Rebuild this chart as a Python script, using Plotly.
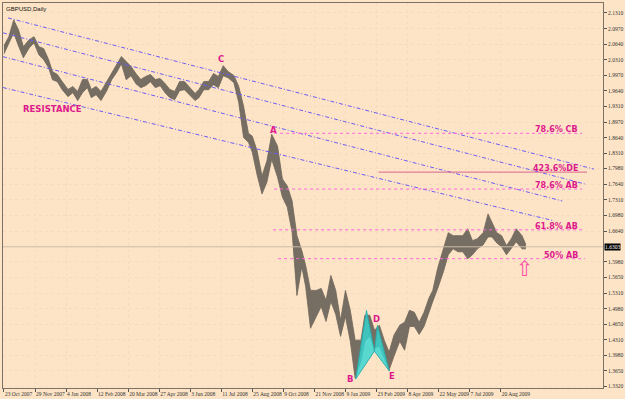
import plotly.graph_objects as go

# ---------------- data ----------------
bar_idx = [0, 5, 10, 15, 20, 26, 31, 36, 41, 46, 50, 55, 60, 66, 71, 76, 81, 86, 90, 95,
           100, 106, 111, 116, 121, 126, 131, 136, 141, 146, 151, 156, 161, 166, 171, 176, 181, 186, 191, 197,
           201, 206, 211, 216, 221, 226, 231, 237, 242, 247, 252, 256, 261, 266, 271, 276, 282, 287, 292, 297,
           302, 307, 311, 316, 322, 327, 332, 337, 342, 347, 352, 357, 362, 368, 372, 377, 382, 387, 392, 397,
           402, 408, 413, 418, 423, 428, 433, 438, 442, 447, 453, 458, 463, 468, 473, 478, 483, 488, 494, 499,
           503, 508, 513, 518, 523, 528, 534, 538]

high = [2.0610, 2.0802, 2.1161, 2.0951, 2.0589, 2.0738, 2.0802, 2.0589, 2.0546, 2.0312,
        2.0056, 1.9992, 1.9843, 1.9673, 1.9737, 1.9630, 1.9886, 1.9886, 1.9673, 1.9737,
        1.9630, 1.9843, 2.0013, 2.0184, 2.0376, 2.0269, 2.0163, 2.0013, 1.9886, 1.9950,
        1.9992, 1.9886, 1.9907, 1.9800, 1.9673, 1.9630, 1.9843, 1.9843, 1.9737, 1.9587,
        1.9673, 1.9843, 1.9843, 2.0013, 1.9950, 2.0181, 2.0056, 1.9971, 1.9737, 1.9311,
        1.8735, 1.8672, 1.8352, 1.7820, 1.8139, 1.8712, 1.8459, 1.7756, 1.7607, 1.7287,
        1.6542, 1.6222, 1.5903, 1.5370, 1.5370, 1.5413, 1.5157, 1.5690, 1.5370, 1.4731,
        1.5370, 1.4944, 1.4305, 1.4305, 1.4838, 1.4838, 1.4518, 1.4625, 1.4305, 1.4049,
        1.4412, 1.4625, 1.4688, 1.4944, 1.4901, 1.4688, 1.4901, 1.5200, 1.5370, 1.5839,
        1.6265, 1.6605, 1.6542, 1.6542, 1.6542, 1.6691, 1.6435, 1.6478, 1.6605, 1.7008,
        1.6818, 1.6605, 1.6542, 1.6329, 1.6478, 1.6691, 1.6542, 1.6350]

low = [2.0434, 2.0647, 2.0882, 2.0605, 2.0349, 2.0562, 2.0669, 2.0413, 2.0306, 2.0136,
       1.9880, 1.9838, 1.9667, 1.9518, 1.9604, 1.9433, 1.9604, 1.9710, 1.9497, 1.9561,
       1.9433, 1.9646, 1.9880, 2.0030, 2.0221, 1.9880, 1.9966, 1.9795, 1.9710, 1.9753,
       1.9838, 1.9710, 1.9753, 1.9604, 1.9497, 1.9454, 1.9646, 1.9667, 1.9561, 1.9433,
       1.9497, 1.9667, 1.9667, 1.9774, 1.9710, 1.9966, 1.9923, 1.9817, 1.9391, 1.8645,
       1.8539, 1.8326, 1.7836, 1.7434, 1.7687, 1.8176, 1.7793, 1.7367, 1.7154, 1.6622,
       1.5261, 1.5876, 1.5450, 1.4558, 1.4811, 1.5024, 1.4705, 1.5131, 1.4854, 1.4385,
       1.4811, 1.4279, 1.3493, 1.3853, 1.4279, 1.4385, 1.4129, 1.4172, 1.3916, 1.3663,
       1.3959, 1.4279, 1.4089, 1.4598, 1.4598, 1.4428, 1.4598, 1.4918, 1.5131, 1.5407,
       1.5770, 1.6132, 1.6259, 1.6196, 1.6196, 1.6046, 1.6132, 1.6259, 1.6345, 1.6515,
       1.6515, 1.6387, 1.6302, 1.6132, 1.6259, 1.6409, 1.6259, 1.6259]

last_price = 1.6303

tick_bars = [0, 32, 64, 96, 128, 160, 192, 224, 256, 288, 320, 352, 384, 416, 448, 480, 512]
tick_dates = ["23 Oct 2007", "29 Nov 2007", "4 Jan 2008", "12 Feb 2008", "20 Mar 2008",
              "27 Apr 2008", "3 Jun 2008", "11 Jul 2008", "25 Aug 2008", "9 Oct 2008",
              "21 Nov 2008", "9 Jan 2009", "23 Feb 2009", "8 Apr 2009", "22 May 2009",
              "7 Jul 2009", "20 Aug 2009"]

price_ticks = [2.1310, 2.0970, 2.0640, 2.0310, 1.9970, 1.9640, 1.9310, 1.8970, 1.8640,
               1.8310, 1.7980, 1.7640, 1.7310, 1.6980, 1.6640, 1.5980, 1.5650, 1.5310,
               1.4980, 1.4650, 1.4310, 1.3980, 1.3650, 1.3320]

# channel trend lines (start bar, start price, end bar, end price)
chan_x0 = [4.1, -1.0, -1.0, -1.0]
chan_y0 = [2.1204, 2.0884, 2.0373, 1.9713]
chan_x1 = [608.2, 599.0, 575.5, 567.3]
chan_y1 = [1.7966, 1.7647, 1.7284, 1.6858]

# fibonacci / projection levels
fib_names = ["78.6% CB", "423.6%DE", "78.6% AB", "61.8% AB", "50% AB"]
fib_prices = [1.8733, 1.7902, 1.7540, 1.6667, 1.6049]
fib_start = [278.5, 386.0, 278.5, 277.5, 282.6]
fib_end = [596.0, 601.0, 596.0, 599.0, 599.0]
fib_label_bar = 594.0

# pattern points
pt_names = ["C", "A", "B", "D", "E"]
pt_bar = [224.2, 277.5, 356.3, 384.0, 400.4]
pt_price = [2.0320, 1.8797, 1.3472, 1.4750, 1.3536]

# harmonic triangles
tri1_bar = [362.5, 373.7, 381.9]
tri1_price = [1.3471, 1.4941, 1.4068]
tri2_bar = [381.9, 385.0, 397.3]
tri2_price = [1.4068, 1.4622, 1.3642]

resist_bar, resist_price = 49.7, 1.9244
arrow_bar, arrow_price = 536.6, 1.5836

# ---------------- figure ----------------
BG = "#fde4c6"
CANDLE = "#6e665b"
PINK = "#dd1a8c"
FIBC = "#ff66dd"
BLUE = "#6c5cf5"

fig = go.Figure()

# price band
fig.add_trace(go.Scatter(x=bar_idx, y=high, mode="lines",
                         line=dict(color=CANDLE, width=0.8), hoverinfo="skip"))
fig.add_trace(go.Scatter(x=bar_idx, y=low, mode="lines", fill="tonexty",
                         fillcolor="#766e62", line=dict(color=CANDLE, width=0.8),
                         hoverinfo="skip"))

# harmonic triangles (semi-transparent so the bars show through)
for bx, by in [(tri1_bar, tri1_price), (tri2_bar, tri2_price)]:
    fig.add_trace(go.Scatter(x=bx + [bx[0]], y=by + [by[0]], mode="lines",
                             fill="toself", fillcolor="rgba(52,214,210,0.82)",
                             line=dict(color="rgba(40,170,168,0.9)", width=1),
                             hoverinfo="skip"))

# current price line
fig.add_hline(y=last_price, line=dict(color="#cdbba9", width=1))

# channel lines
for x0, y0, x1, y1 in zip(chan_x0, chan_y0, chan_x1, chan_y1):
    fig.add_trace(go.Scatter(x=[x0, x1], y=[y0, y1], mode="lines",
                             line=dict(color=BLUE, width=1, dash="4px,2px,1px,2px"),
                             hoverinfo="skip"))

# fib levels
for name, p, s, e in zip(fib_names, fib_prices, fib_start, fib_end):
    solid = "DE" in name
    fig.add_trace(go.Scatter(x=[s, e], y=[p, p], mode="lines",
                             line=dict(color="#d8668e" if solid else FIBC, width=1,
                                       dash="solid" if solid else "dot"),
                             hoverinfo="skip"))
    fig.add_annotation(x=fib_label_bar, y=p, text="<b>%s</b>" % name, showarrow=False,
                       xanchor="right", yanchor="bottom", yshift=-3,
                       font=dict(family="DejaVu Sans", size=8, color=PINK))

for n, bx, py in zip(pt_names, pt_bar, pt_price):
    fig.add_annotation(x=bx, y=py, text="<b>%s</b>" % n, showarrow=False,
                       font=dict(family="DejaVu Sans", size=8.5, color=PINK))

fig.add_annotation(x=resist_bar, y=resist_price, text="<b>RESISTANCE</b>", showarrow=False,
                   font=dict(family="DejaVu Sans", size=8.5, color=PINK))
fig.add_annotation(x=arrow_bar, y=arrow_price, text="⇧", showarrow=False,
                   font=dict(family="DejaVu Sans", size=21, color="#ff4da6"))

fig.add_annotation(xref="paper", yref="paper", x=0, y=1, text="GBPUSD,Daily",
                   showarrow=False, xanchor="left", yanchor="top", xshift=1, yshift=-1,
                   font=dict(family="Liberation Sans", size=6, color="#111"))

fig.add_annotation(xref="paper", yref="y", x=1, y=last_price, text="1.6303",
                   showarrow=False, xanchor="left", xshift=1, bgcolor="#000",
                   borderpad=0, font=dict(family="Liberation Serif", size=5.5, color="#fff"))

fig.update_layout(
    width=625, height=399,
    margin=dict(l=2, r=19, t=3, b=9),
    paper_bgcolor=BG, plot_bgcolor=BG,
    showlegend=False,
    xaxis=dict(range=[-1.0, 617.5], tickvals=tick_bars, ticktext=tick_dates,
               tickangle=0, ticks="outside", ticklen=3, tickcolor="#555",
               ticklabelposition="outside right",
               tickfont=dict(family="Liberation Serif", size=5.5, color="#333"),
               showline=True, linecolor="#7d7064", linewidth=1, mirror=True,
               showgrid=True, gridcolor="#f6dbbd", griddash="dot", zeroline=False),
    yaxis=dict(range=[1.3280, 2.1523], side="right", tickvals=price_ticks,
               ticktext=["%.4f" % v for v in price_ticks],
               ticks="outside", ticklen=3, tickcolor="#555",
               tickfont=dict(family="Liberation Serif", size=5.5, color="#333"),
               showline=True, linecolor="#7d7064", linewidth=1, mirror=True,
               showgrid=True, gridcolor="#f6dbbd", griddash="dot", zeroline=False),
)

fig.write_html("out.html")
